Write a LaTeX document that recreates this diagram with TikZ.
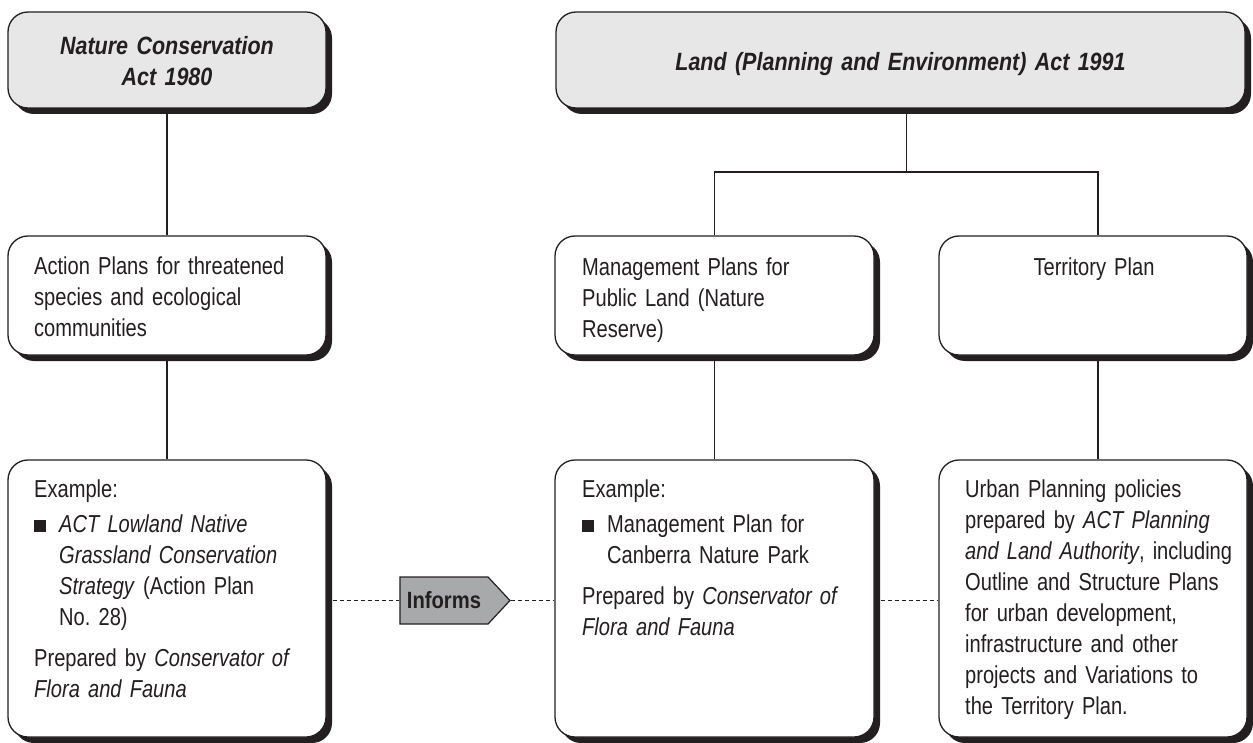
\documentclass[tikz,border=0pt]{standalone}
\usepackage{fontspec}
\setmainfont[FakeStretch=0.82]{Liberation Sans}
\newfontfamily\titlefont[FakeStretch=0.86]{Liberation Sans}
\usetikzlibrary{shadows,shapes.symbols}
\definecolor{ink}{HTML}{231F20}
\definecolor{lightfill}{HTML}{E6E7E6}
\definecolor{arrowfill}{HTML}{A8A9AA}
\tikzset{
  box/.style={draw=ink, line width=1.3pt, rounded corners=20pt, fill=white, inner sep=0pt,
    drop shadow={shadow xshift=6pt, shadow yshift=-6pt, opacity=1, fill=ink}},
  titlebox/.style={box, fill=lightfill},
  conn/.style={draw=ink, line width=1.2pt},
  dashline/.style={draw=ink, line width=1pt, dash pattern=on 4pt off 3pt},
  body/.style={font=\fontsize{24.5}{31}\selectfont, text=ink, text width=300pt, align=left, inner sep=0pt, anchor=base west},
  titletext/.style={font=\titlefont\fontsize{25}{31}\selectfont\bfseries\itshape, text=ink, text width=660pt, align=center, inner sep=0pt, anchor=base},
  informs/.style={shape=signal, signal to=east, signal pointer angle=94, draw=ink, line width=1.2pt, fill=arrowfill,
    minimum width=110pt, minimum height=47pt, inner sep=0pt, text=ink, font=\titlefont\fontsize{23.5}{28}\selectfont\bfseries}
}
\newcommand{\bulletsq}{\makebox[25pt][l]{\rule{12pt}{12pt}}}
\frenchspacing
\begin{document}
\begin{tikzpicture}[x=1pt,y=-1pt]
\useasboundingbox (0,0) rectangle (1253,743);
% connector points
\coordinate (brL) at (714.5,172);
\coordinate (brM) at (906.5,172);
\coordinate (brR) at (1098,172);
% boxes
\node[titlebox, minimum width=318pt, minimum height=96pt] (nca) at (167,60) {};
\node[titlebox, minimum width=689pt, minimum height=96pt] (lpe) at (900.5,60) {};
\node[box, minimum width=318pt, minimum height=119pt] (ap) at (167,295.5) {};
\node[box, minimum width=319pt, minimum height=119pt] (mp) at (714.5,295.5) {};
\node[box, minimum width=308pt, minimum height=119pt] (tp) at (1093,295.5) {};
\node[box, minimum width=318pt, minimum height=277pt] (ex1) at (167,598.5) {};
\node[box, minimum width=319pt, minimum height=277pt] (ex2) at (714.5,598.5) {};
\node[box, minimum width=308pt, minimum height=277pt] (up) at (1093,598.5) {};
% connector lines
\draw[conn] (nca.south) -- (ap.north);
\draw[conn] (ap.south) -- (ex1.north);
\draw[conn] (lpe.south -| brM) -- (brM);
\draw[conn] (mp.north) -- (brL) -- (brR) -- (brR |- tp.north);
\draw[conn] (mp.south) -- (ex2.north);
\draw[conn] (tp.south -| brR) -- (up.north -| brR);
% informs arrow
\node[informs] (inf) at (444,600.5) {Informs};
\draw[dashline] (ex1.east |- inf.west) ++(6pt,0) -- (inf.west);
\draw[dashline] (inf.east) -- (ex2.west |- inf.east);
\draw[dashline] (ex2.east |- inf.east) ++(6pt,0) -- (up.west |- inf.east);
% texts
\node[titletext, text width=300pt] (ncat) at (167,55) {Nature Conservation\\Act 1980};
\node[titletext] (lpet) at (900.5,71) {Land (Planning and Environment) Act 1991};
\node[body] (apt) at (34,275) {Action Plans for threatened\\species and ecological\\communities};
\node[body] (mpt) at (582,276) {Management Plans for\\Public Land (Nature\\Reserve)};
\node[body, anchor=base, align=center, text width=280pt] (tpt) at (1094,276) {Territory Plan};
\node[body] (ex1t) at (34,497) {Example:\\[4pt]
\bulletsq\textit{ACT Lowland Native}\\
\hspace*{25pt}\textit{Grassland Conservation}\\
\hspace*{25pt}\textit{Strategy} (Action Plan\\
\hspace*{25pt}No.\ 28)\\[10pt]
Prepared by \textit{Conservator of}\\
\textit{Flora and Fauna}};
\node[body] (ex2t) at (582,497) {Example:\\[4pt]
\bulletsq Management Plan for\\
\hspace*{25pt}Canberra Nature Park\\[10pt]
Prepared by \textit{Conservator of}\\
\textit{Flora and Fauna}};
\node[body] (upt) at (965,497) {Urban Planning policies\\prepared by \textit{ACT Planning}\\\textit{and Land Authority}, including\\Outline and Structure Plans\\for urban development,\\infrastructure and other\\projects and Variations to\\the Territory Plan.};
\end{tikzpicture}
\end{document}
